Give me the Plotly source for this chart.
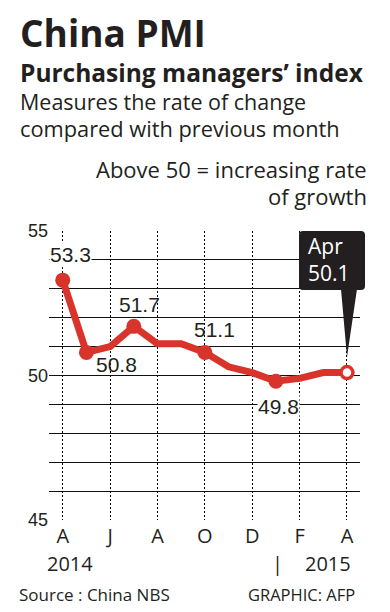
import plotly.graph_objects as go

# ---- data ----
months = ["Apr 2014", "May 2014", "Jun 2014", "Jul 2014", "Aug 2014", "Sep 2014", "Oct 2014",
          "Nov 2014", "Dec 2014", "Jan 2015", "Feb 2015", "Mar 2015", "Apr 2015"]
pmi = [53.3, 50.8, 51.0, 51.7, 51.1, 51.1, 50.8, 50.3, 50.1, 49.8, 49.9, 50.1, 50.1]
marker_idx = [0, 1, 3, 6, 9]
label_idx = [0, 1, 3, 6, 9]
label_text = ["53.3", "50.8", "51.7", "51.1", "49.8"]
label_shift = [(8, 26), (30, -12), (6, 22), (10, 23), (3, -25)]
label_bg = [True, False, False, False, True]
tick_idx = [0, 2, 4, 6, 8, 10, 12]
tick_text = ["A", "J", "A", "O", "D", "F", "A"]
y_ticks = list(range(45, 56))
y_labels = ["45", "", "", "", "", "50", "", "", "", "", "55"]

RED = "#d9342b"
INK = "#231f20"
HEAD = "Open Sans"
NUM = "Liberation Sans"

OFF = 8  # page body margin
W, H = 390 - OFF, 612 - OFF
L, R, T, B = 49 - OFF, 360 - OFF, 231 - OFF, 520 - OFF

def px(x):
    return (x - OFF - L) / (R - L)

def py(y):
    return (B - (y - OFF)) / (B - T)

xs = list(range(len(months)))

fig = go.Figure()
fig.add_trace(go.Scatter(x=xs, y=pmi, mode="lines", line=dict(color=RED, width=7),
                         hoverinfo="skip", showlegend=False))
fig.add_trace(go.Scatter(x=[xs[i] for i in marker_idx], y=[pmi[i] for i in marker_idx],
                         mode="markers", marker=dict(color=RED, size=15, line=dict(width=0)),
                         hoverinfo="skip", showlegend=False))
fig.add_trace(go.Scatter(x=[xs[-1]], y=[pmi[-1]], mode="markers",
                         marker=dict(color="white", size=12, line=dict(color=RED, width=3.5)),
                         hoverinfo="skip", showlegend=False))

ann = []
for i, t, (dx, dy), bg in zip(label_idx, label_text, label_shift, label_bg):
    ann.append(dict(x=xs[i], y=pmi[i], xref="x", yref="y", text=t, showarrow=False,
                    xshift=dx, yshift=dy, font=dict(family=NUM, size=21, color=INK),
                    bgcolor="white" if bg else None, borderpad=0))

def txt(x, y, s, size, bold=False, anchor="left", family=HEAD, color=INK):
    ann.append(dict(x=px(x), y=py(y), xref="paper", yref="paper", text=("<b>%s</b>" % s) if bold else s,
                    showarrow=False, xanchor=anchor, yanchor="middle",
                    font=dict(family=family, size=size, color=color)))

txt(18, 33, "China PMI", 37, bold=True)
txt(18, 72, "Purchasing managers’ index", 24.5, bold=True)
txt(18, 101, "Measures the rate of change", 21.5)
txt(18, 129, "compared with previous month", 21.8)
txt(369, 169, "Above 50 = increasing rate", 22, anchor="right")
txt(369, 196, "of growth", 22, anchor="right")
txt(70, 563, "2014", 20, anchor="center")
txt(328, 563, "2015", 20, anchor="center")
txt(277, 563, "|", 20, anchor="center")
txt(17, 594, "Source : China NBS", 17)
txt(357, 594, "GRAPHIC: AFP", 16.5, anchor="right")

# callout box
bx0, bx1, by0, by1, r = 299, 365, 231, 290, 4
shapes = [
    dict(type="path", xref="paper", yref="paper", fillcolor=INK, line=dict(width=0),
         path=("M {a},{b} L {c},{b} Q {d},{b} {d},{e} L {d},{f} Q {d},{g} {c},{g} "
               "L {a},{g} Q {h},{g} {h},{f} L {h},{e} Q {h},{b} {a},{b} Z").format(
             a=px(bx0 + r), b=py(by0), c=px(bx1 - r), d=px(bx1), e=py(by0 + r),
             f=py(by1 - r), g=py(by1), h=px(bx0))),
    dict(type="path", xref="paper", yref="paper", fillcolor=INK, line=dict(width=0),
         path="M {},{} L {},{} L {},{} Z".format(px(341), py(289), px(357), py(289), px(347), py(357))),
]
txt(306, 246, "Apr", 21, color="white")
txt(306, 273, "50.1", 21, color="white")

fig.update_layout(
    width=W, height=H, margin=dict(l=L, r=W - R, t=T, b=H - B, autoexpand=False),
    paper_bgcolor="white", plot_bgcolor="white",
    annotations=ann, shapes=shapes,
    xaxis=dict(range=[-0.58, 12.55], tickvals=[xs[i] for i in tick_idx], ticktext=tick_text,
               showgrid=True, gridcolor="#000", gridwidth=1, griddash="1.5px,2.5px",
               zeroline=False, showline=False, ticks="", automargin=False, ticklabelstandoff=2,
               tickfont=dict(family=HEAD, size=20, color=INK), fixedrange=True),
    yaxis=dict(range=[45, 55], tickvals=y_ticks, ticktext=y_labels,
               showgrid=True, gridcolor="#111", gridwidth=1.2,
               zeroline=False, showline=False, ticks="", automargin=False,
               tickfont=dict(family=NUM, size=18, color=INK), fixedrange=True),
)
fig.write_html("out.html")
